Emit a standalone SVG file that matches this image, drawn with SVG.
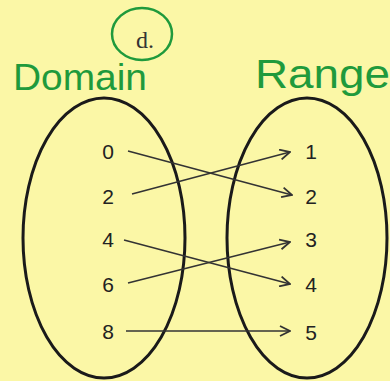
<svg xmlns="http://www.w3.org/2000/svg" width="390" height="381" viewBox="0 0 390 381">
<defs>
<style>
.set{fill:none;stroke:#1a1a1a;stroke-width:3}
.num{font-family:"Liberation Sans",Arial,sans-serif;font-size:21px;fill:#222;text-anchor:middle}
.hand{font-family:"Liberation Sans",Arial,sans-serif;fill:#1f9a3c}
.arr{stroke:#333;stroke-width:1.6;fill:none;marker-end:url(#ah)}
</style>
<marker id="ah" viewBox="0 0 12 12" refX="11" refY="6" markerWidth="12" markerHeight="12" markerUnits="userSpaceOnUse" orient="auto">
<path d="M1,1 L11,6 L1,11" fill="none" stroke="#333" stroke-width="1.8"/>
</marker>
</defs>
<rect width="390" height="381" fill="#fbf7a6"/>
<g id="label-d">
<ellipse cx="142" cy="34" rx="30" ry="26" fill="none" stroke="#1f9a3c" stroke-width="2.5"/>
<text x="145" y="48" font-family="Liberation Serif,serif" font-size="24" fill="#333" text-anchor="middle">d.</text>
</g>
<g id="title-domain"><text class="hand" x="13" y="90" font-size="36" textLength="134" lengthAdjust="spacingAndGlyphs">Domain</text></g>
<g id="title-range"><text class="hand" x="255" y="88" font-size="40" textLength="135" lengthAdjust="spacingAndGlyphs">Range</text></g>
<g id="domain">
<ellipse class="set" cx="104" cy="238" rx="81" ry="140"/>
<text class="num" x="108" y="159">0</text>
<text class="num" x="108" y="204">2</text>
<text class="num" x="108" y="247">4</text>
<text class="num" x="108" y="292">6</text>
<text class="num" x="108" y="339">8</text>
</g>
<g id="range">
<ellipse class="set" cx="307" cy="238" rx="80" ry="140"/>
<text class="num" x="311" y="159">1</text>
<text class="num" x="311" y="204">2</text>
<text class="num" x="311" y="247">3</text>
<text class="num" x="311" y="292">4</text>
<text class="num" x="311" y="340">5</text>
</g>
<g id="connectors">
<line class="arr" x1="128" y1="151" x2="292" y2="195"/>
<line class="arr" x1="132" y1="194" x2="290" y2="152"/>
<line class="arr" x1="124" y1="240" x2="290" y2="284"/>
<line class="arr" x1="128" y1="283" x2="290" y2="242"/>
<line class="arr" x1="126" y1="331" x2="290" y2="331"/>
</g>
</svg>
